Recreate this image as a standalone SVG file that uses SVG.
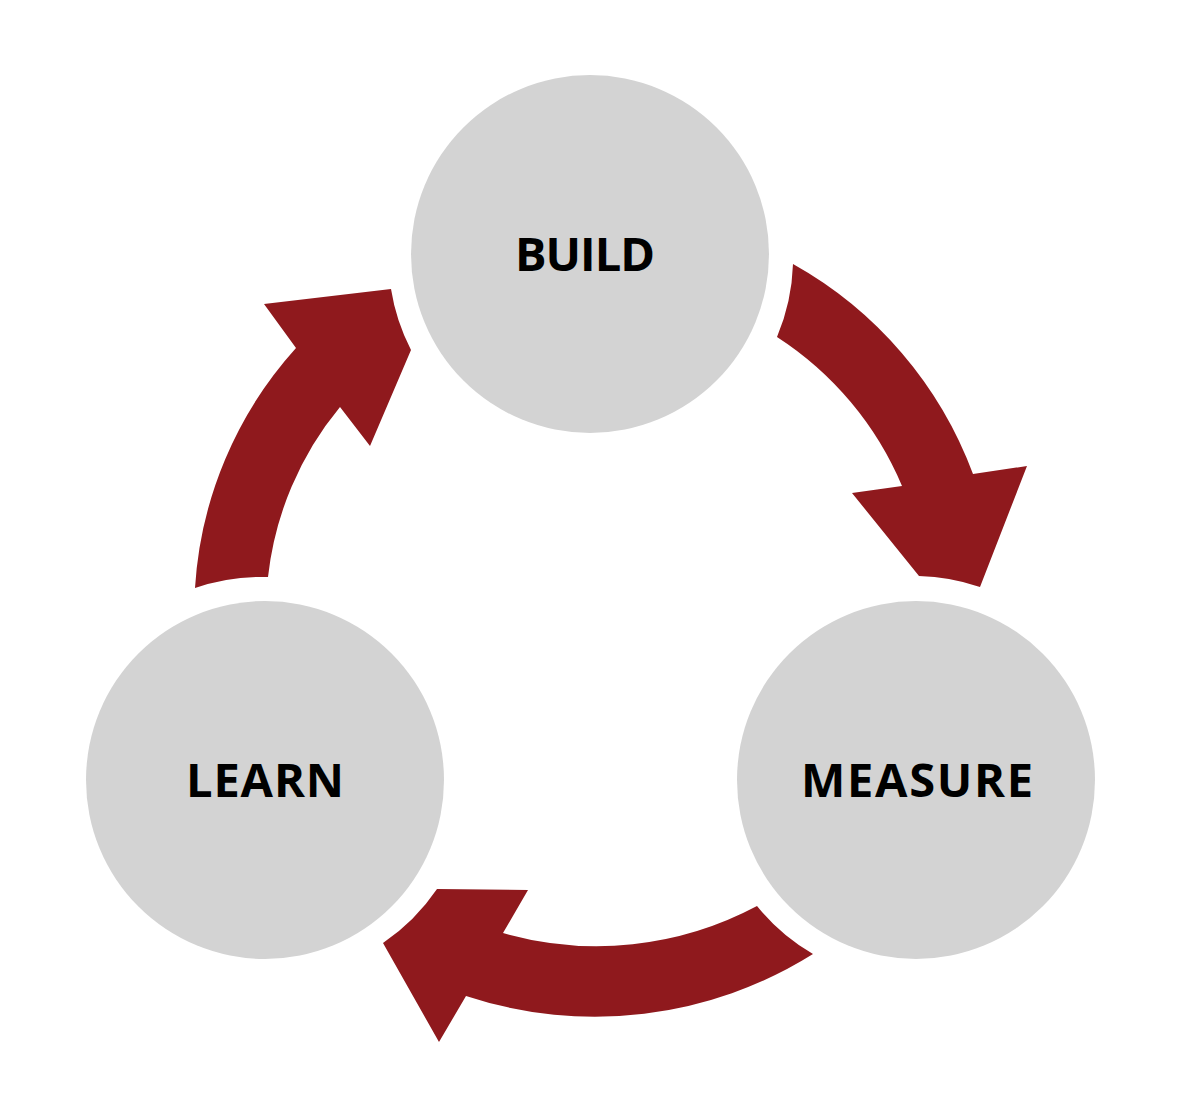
<svg xmlns="http://www.w3.org/2000/svg" width="1182" height="1106" viewBox="0 0 1182 1106">
<style>
.node circle{fill:#d3d3d3}
.node text{font-family:"Open Sans","Noto Sans",sans-serif;font-weight:700;font-size:47px;fill:#000;text-anchor:middle}
.arrow{fill:#8f191d}
</style>
<rect width="1182" height="1106" fill="#fff"/>
<g id="node-build" class="node"><circle cx="590" cy="254" r="179"/><text x="585" y="271" textLength="140">BUILD</text></g>
<g id="node-measure" class="node"><circle cx="916" cy="780" r="179"/><text x="917" y="797" textLength="232">MEASURE</text></g>
<g id="node-learn" class="node"><circle cx="265" cy="780" r="179"/><text x="265" y="797" textLength="158">LEARN</text></g>
<g id="connectors">
<path class="arrow" d="M 793 264 A 400 400 0 0 1 973 474 L 1027 466 L 980 587 A 203 203 0 0 0 919 576 L 852 493 L 902 486 A 330 330 0 0 0 777 337 A 204 204 0 0 0 793 264 Z"/>
<path class="arrow" d="M 813 954 A 411 411 0 0 1 466 996 L 439 1042 L 383 943 A 203 203 0 0 0 437 889 L 528 890 L 503 933 A 341 341 0 0 0 757 906 A 203 203 0 0 0 813 954 Z"/>
<path class="arrow" d="M 195 588 A 394 394 0 0 1 296 348 L 264 304 L 391 289 A 203 203 0 0 0 411 350 L 370 446 L 340 407 A 322 322 0 0 0 268 577 A 203 203 0 0 0 195 588 Z"/>
</g>
</svg>
